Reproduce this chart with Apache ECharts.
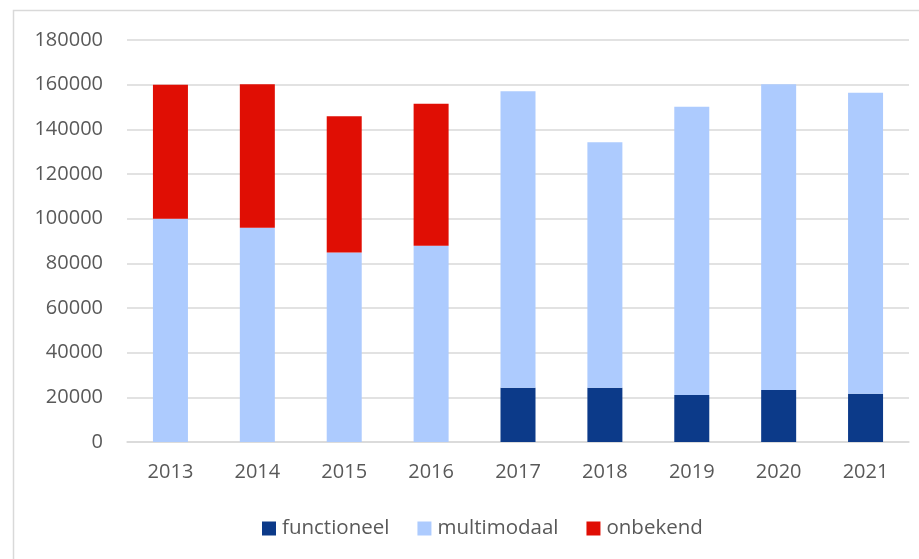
<!DOCTYPE html>
<html>
<head>
<meta charset="utf-8">
<script src="https://cdn.jsdelivr.net/npm/echarts@6/dist/echarts.min.js"></script>
<style>
    html, body { margin: 0; padding: 0; background: #fff; }
    #chart { width: 919px; height: 559px; }
</style>
</head>
<body>
<div id="chart"></div>
<script>
const years = ['2013', '2014', '2015', '2016', '2017', '2018', '2019', '2020', '2021'];
const functioneel = [0, 0, 0, 0, 24300, 24300, 21100, 23300, 21600];
const multimodaal = [100000, 95900, 84800, 87900, 132800, 109900, 129000, 136900, 134800];
const onbekend = [60000, 64300, 61100, 63500, 0, 0, 0, 0, 0];
const colors = ['#0c3a89', '#adcbfe', '#e00e04'];

let myChart = echarts.init(document.getElementById('chart'));

// bar series, stacked in this order
function barSeries(name, data) {
    return {
        name: name,
        type: 'bar',
        stack: 'total',
        barWidth: 35,
        data: data
    };
}

myChart.setOption({
    animation: false,
    color: colors,
    textStyle: {
        fontFamily: 'Open Sans'
    },
    graphic: [{
        type: 'rect',
        shape: { x: 13.5, y: 10.5, width: 930, height: 570 },
        style: { fill: 'none', stroke: '#d9d9d9', lineWidth: 1.5 },
        silent: true
    }],
    grid: {
        left: 127,
        right: 10,
        top: 40,
        bottom: 117
    },
    legend: {
        top: 513,
        left: 257,
        itemWidth: 14,
        itemHeight: 14,
        itemGap: 28,
        icon: 'rect',
        textStyle: {
            color: '#595959',
            fontSize: 20.5,
            padding: [0, 0, 0, 1]
        },
        data: ['functioneel', 'multimodaal', 'onbekend']
    },
    xAxis: {
        type: 'category',
        data: years,
        axisTick: { show: false },
        axisLine: { lineStyle: { color: '#d9d9d9', width: 1.5 } },
        axisLabel: {
            color: '#595959',
            fontSize: 20,
            margin: 20
        }
    },
    yAxis: {
        type: 'value',
        min: 0,
        max: 180000,
        interval: 20000,
        axisLine: { show: false },
        axisTick: { show: false },
        splitLine: { lineStyle: { color: '#d9d9d9', width: 1.5 } },
        axisLabel: {
            color: '#595959',
            fontSize: 20,
            margin: 24,
            formatter: function (v) { return String(v); }
        }
    },
    series: [
        barSeries('functioneel', functioneel),
        barSeries('multimodaal', multimodaal),
        barSeries('onbekend', onbekend)
    ]
});
</script>
</body>
</html>
